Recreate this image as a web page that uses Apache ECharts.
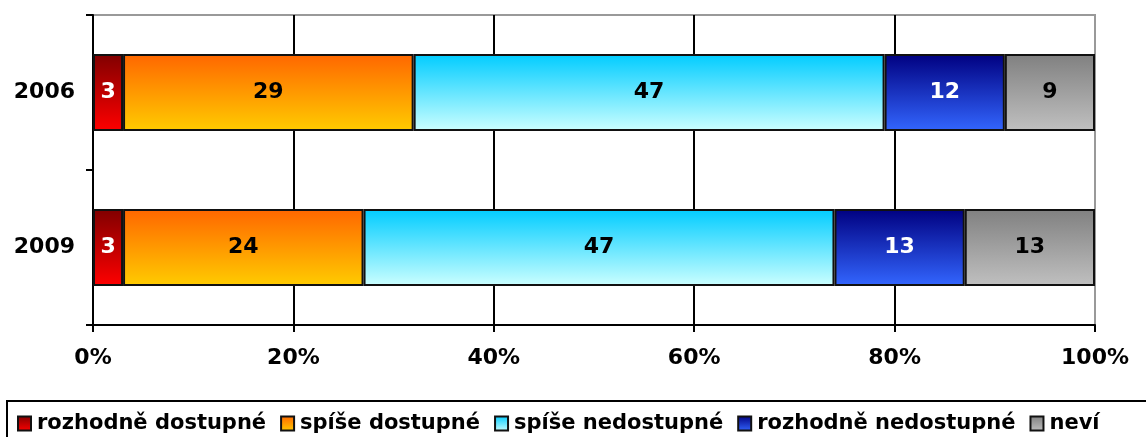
<!DOCTYPE html>
<html>
<head>
<meta charset="utf-8">
<script src="https://cdn.jsdelivr.net/npm/echarts@6/dist/echarts.min.js"></script>
<style>
  html, body { margin: 0; padding: 0; background: #fff; }
  #chart { width: 1146px; height: 437px; }
</style>
</head>
<body>
<div id="chart"></div>
<script>
var years = ['2006', '2009'];
var seriesNames = ['rozhodně dostupné', 'spíše dostupné', 'spíše nedostupné', 'rozhodně nedostupné', 'neví'];
var rozhodneDostupne = [3, 3];
var spiseDostupne = [29, 24];
var spiseNedostupne = [47, 47];
var rozhodneNedostupne = [12, 13];
var nevi = [9, 13];
var xTicks = [0, 20, 40, 60, 80, 100];

var values = [rozhodneDostupne, spiseDostupne, spiseNedostupne, rozhodneNedostupne, nevi];
// top colour, bottom colour, label colour
var fills = [
  ['#800000', '#ff0000', '#fff'],
  ['#ff6600', '#ffcc00', '#000'],
  ['#00ccff', '#ccffff', '#000'],
  ['#000080', '#3366ff', '#fff'],
  ['#808080', '#c0c0c0', '#000']
];
var font = 'DejaVu Sans';

var chart = echarts.init(document.getElementById('chart'), null, {renderer: 'canvas'});

var series = seriesNames.map(function (name, i) {
  return {
    name: name,
    type: 'bar',
    stack: 'all',
    barWidth: 77,
    data: values[i],
    itemStyle: {
      color: new echarts.graphic.LinearGradient(0, 0, 0, 1, [
        {offset: 0, color: fills[i][0]},
        {offset: 1, color: fills[i][1]}
      ]),
      borderColor: '#111',
      borderWidth: 2
    },
    label: {
      show: true,
      position: 'inside',
      color: fills[i][2],
      fontFamily: font,
      fontWeight: 'bold',
      fontSize: 22
    },
    emphasis: {disabled: true}
  };
});

var option = {
  animation: false,
  grid: {
    left: 93, right: 51, top: 15, bottom: 112,
    show: true,
    borderColor: '#999',
    borderWidth: 2
  },
  xAxis: {
    type: 'value',
    min: xTicks[0],
    max: xTicks[xTicks.length - 1],
    interval: 20,
    axisLine: {show: true, lineStyle: {color: '#000', width: 2}},
    axisTick: {show: true, length: 7, lineStyle: {color: '#000', width: 2}},
    splitLine: {show: true, showMinLine: false, showMaxLine: false, lineStyle: {color: '#000', width: 2}},
    axisLabel: {
      formatter: '{value}%',
      color: '#000',
      fontFamily: font,
      fontWeight: 'bold',
      fontSize: 22,
      margin: 22
    }
  },
  yAxis: {
    type: 'category',
    inverse: true,
    data: years,
    axisLine: {show: true, lineStyle: {color: '#000', width: 2}},
    axisTick: {show: true, length: 7, lineStyle: {color: '#000', width: 2}},
    axisLabel: {
      color: '#000',
      fontFamily: font,
      fontWeight: 'bold',
      fontSize: 22,
      margin: 18
    }
  },
  legend: {
    data: seriesNames,
    left: 12,
    right: 0,
    top: 408,
    itemWidth: 13,
    itemHeight: 14,
    itemGap: 14,
    icon: 'rect',
    selectedMode: false,
    textStyle: {
      color: '#000',
      fontFamily: font,
      fontWeight: 'bold',
      fontSize: 21,
      padding: [0, 0, 0, 1]
    }
  },
  graphic: [{
    type: 'rect',
    shape: {x: 7, y: 401, width: 1160, height: 60},
    style: {fill: 'none', stroke: '#000', lineWidth: 2}
  }],
  series: series
};

chart.setOption(option);
</script>
</body>
</html>
